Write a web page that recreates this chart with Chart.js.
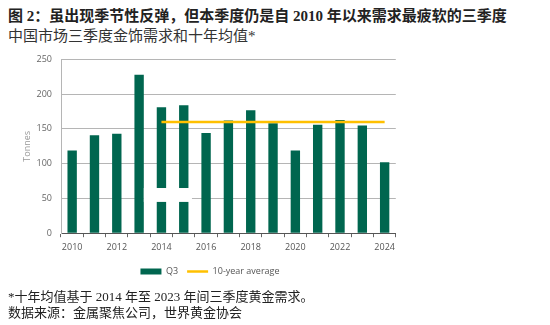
<!DOCTYPE html>
<html>
<head>
<meta charset="utf-8">
<script src="https://cdn.jsdelivr.net/npm/chart.js@4.4.1/dist/chart.umd.min.js"></script>
<style>
  body { margin: 0; width: 550px; height: 325px; background: #fff; position: relative; overflow: hidden; }
  .t1 { position: absolute; left: 8px; top: 4px; font: bold 15px "Liberation Serif", "Noto Sans CJK SC"; color: #222; white-space: nowrap; }
  .t2 { position: absolute; left: 8px; top: 24px; font: 15px "Liberation Serif", "Noto Sans CJK SC"; color: #333; white-space: nowrap; }
  .f1 { position: absolute; left: 8px; top: 286px; font: 13px "Liberation Serif", "Noto Sans CJK SC"; color: #222; white-space: nowrap; }
  .f2 { position: absolute; left: 8px; top: 302px; font: 13px "Liberation Serif", "Noto Sans CJK SC"; color: #222; white-space: nowrap; }
  #wrap { position: absolute; left: 0; top: 45px; width: 400px; height: 243px; }
</style>
</head>
<body>
<div class="t1">图 2：虽出现季节性反弹，但本季度仍是自 2010 年以来需求最疲软的三季度</div>
<div class="t2">中国市场三季度金饰需求和十年均值*</div>
<div id="wrap"><canvas id="myChart"></canvas></div>
<div class="f1">*十年均值基于 2014 年至 2023 年间三季度黄金需求。</div>
<div class="f2">数据来源：金属聚焦公司，世界黄金协会</div>
<script>
// data
const years = ['2010','2011','2012','2013','2014','2015','2016','2017','2018','2019','2020','2021','2022','2023','2024'];
const q3 = [119, 141, 143, 228, 181, 184, 144, 162, 177, 158, 119, 156, 163, 155, 102];
const avg10 = [null, null, null, null, 160, 160, 160, 160, 160, 160, 160, 160, 160, 160, 160];
const yTicks = [0, 50, 100, 150, 200, 250];

const green = '#00664f';
const gold = '#ffc000';

// white patch over the 2014/2015 bars seen in the original
const patch = {
  id: 'patch',
  afterDatasetsDraw(chart) {
    const x = chart.scales.x, y = chart.scales.y;
    const bw = chart.getDatasetMeta(0).data[0].width;
    const ctx = chart.ctx;
    const left = x.getPixelForValue(3) + bw / 2;
    const right = x.getPixelForValue(5) + bw / 2 + 3.5;
    const top = y.getPixelForValue(65), bot = y.getPixelForValue(45);
    ctx.save();
    ctx.fillStyle = '#fff';
    ctx.fillRect(left, top, right - left, bot - top);
    ctx.restore();
  }
};

new Chart('myChart', {
  data: {
    labels: years,
    datasets: [
      {
        type: 'bar',
        label: 'Q3',
        data: q3,
        backgroundColor: green,
        borderWidth: 0,
        barPercentage: 0.42,
        categoryPercentage: 1,
        pointStyle: 'rect',
        order: 2
      },
      {
        type: 'line',
        label: '10-year average',
        data: avg10,
        borderColor: gold,
        backgroundColor: gold,
        borderWidth: 2.5,
        pointRadius: 0,
        pointStyle: 'line',
        fill: false,
        order: 1
      }
    ]
  },
  options: {
    responsive: true,
    maintainAspectRatio: false,
    animation: false,
    layout: { padding: { left: 22, right: 2, top: 8, bottom: 2 } },
    plugins: {
      legend: {
        position: 'bottom',
        labels: {
          usePointStyle: true,
          pointStyleWidth: 21,
          boxWidth: 21,
          boxHeight: 6,
          padding: 9,
          color: '#555',
          font: { family: 'Open Sans', size: 9 },
          sort: (a, b) => a.datasetIndex - b.datasetIndex
        }
      },
      tooltip: { enabled: false }
    },
    scales: {
      x: {
        grid: { display: true, drawOnChartArea: false, offset: true, tickLength: 4, color: '#666' },
        border: { color: '#555', width: 1 },
        ticks: {
          color: '#555',
          font: { family: 'Open Sans', size: 9 },
          maxRotation: 0,
          autoSkip: false,
          padding: 5,
          callback: (v, i) => (i % 2 === 0 ? years[i] : '')
        }
      },
      y: {
        min: 0,
        max: 250,
        afterBuildTicks: (s) => { s.ticks = yTicks.map(v => ({ value: v })); },
        afterFit: (s) => { s.width = 39; },
        grid: { color: '#b5b5b5', drawTicks: false, lineWidth: 1 },
        border: { display: true, color: '#b5b5b5' },
        ticks: { color: '#666', font: { family: 'Open Sans', size: 9 }, padding: 9 },
        title: { display: true, text: 'Tonnes', color: '#999', font: { family: 'Open Sans', size: 9 }, padding: 0 }
      }
    }
  },
  plugins: [patch]
});
</script>
</body>
</html>
